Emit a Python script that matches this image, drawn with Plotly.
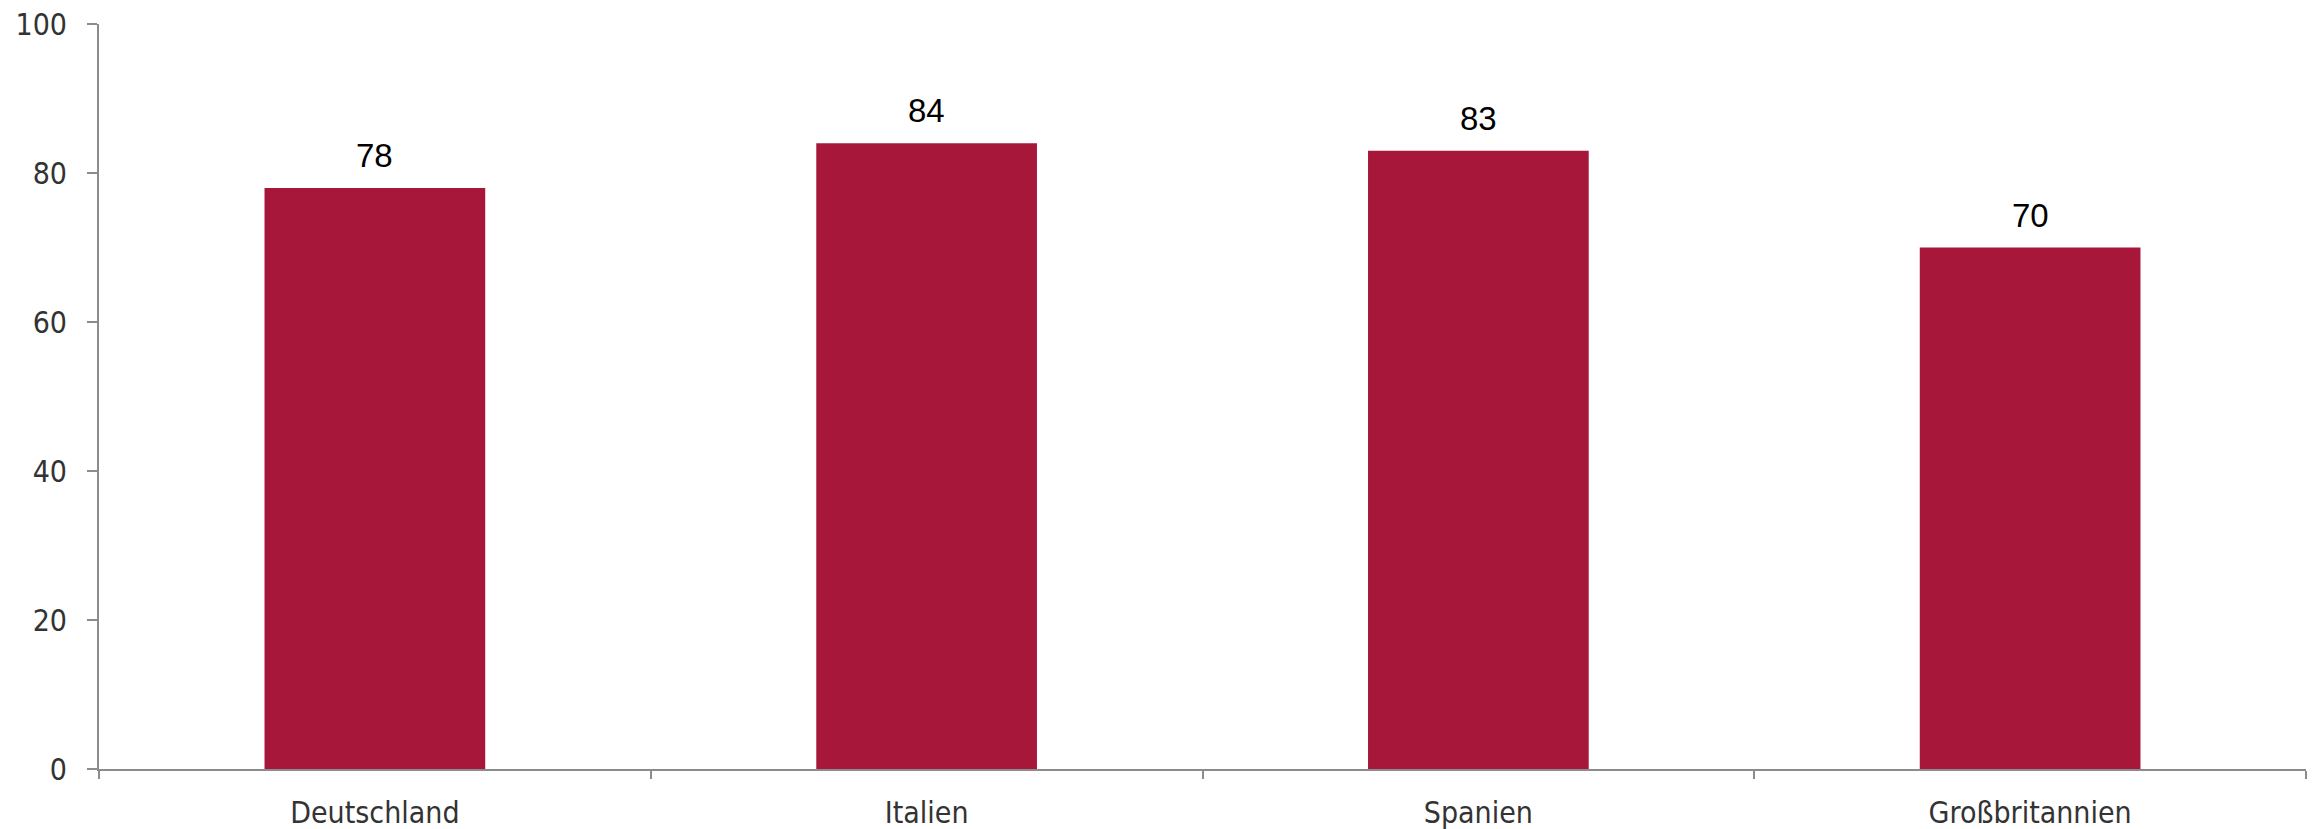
import plotly.graph_objects as go

categories = ["Deutschland", "Italien", "Spanien", "Großbritannien"]
values = [78, 84, 83, 70]
y_ticks = [0, 20, 40, 60, 80, 100]

bar_color = "#A71739"
axis_color = "#8C8C8C"

fig = go.Figure()
fig.add_trace(go.Bar(x=categories, y=values, marker=dict(color=bar_color, line=dict(width=0)),
                     hoverinfo="skip"))

for c, v in zip(categories, values):
    fig.add_annotation(x=c, y=v, text=str(v), showarrow=False, yanchor="bottom", yshift=12,
                       font=dict(family="Liberation Sans Narrow, Liberation Sans", size=33,
                                 color="#000000"))

fig.update_layout(
    width=2315, height=829,
    margin=dict(l=99, r=9, t=24, b=60, autoexpand=False),
    plot_bgcolor="white", paper_bgcolor="white",
    bargap=0.6, showlegend=False,
)
fig.update_xaxes(
    type="category", showline=True, linecolor=axis_color, linewidth=2,
    ticks="outside", tickson="boundaries", ticklen=8, tickcolor=axis_color, tickwidth=1.5,
    showgrid=False, zeroline=False,
    tickfont=dict(family="DejaVu Sans Condensed", size=30, color="#333333"),
    ticklabelstandoff=16,
)
fig.update_yaxes(
    range=[0, 100], tickvals=y_ticks, showline=True, linecolor=axis_color, linewidth=2,
    ticks="outside", ticklen=10, tickcolor=axis_color, tickwidth=1.5,
    showgrid=False, zeroline=False,
    tickfont=dict(family="DejaVu Sans Condensed", size=30, color="#333333"),
    ticklabelstandoff=14,
)

fig.write_html("out.html", config={"displayModeBar": False},
               post_script="document.body.style.margin='0';document.body.style.overflow='hidden';")
